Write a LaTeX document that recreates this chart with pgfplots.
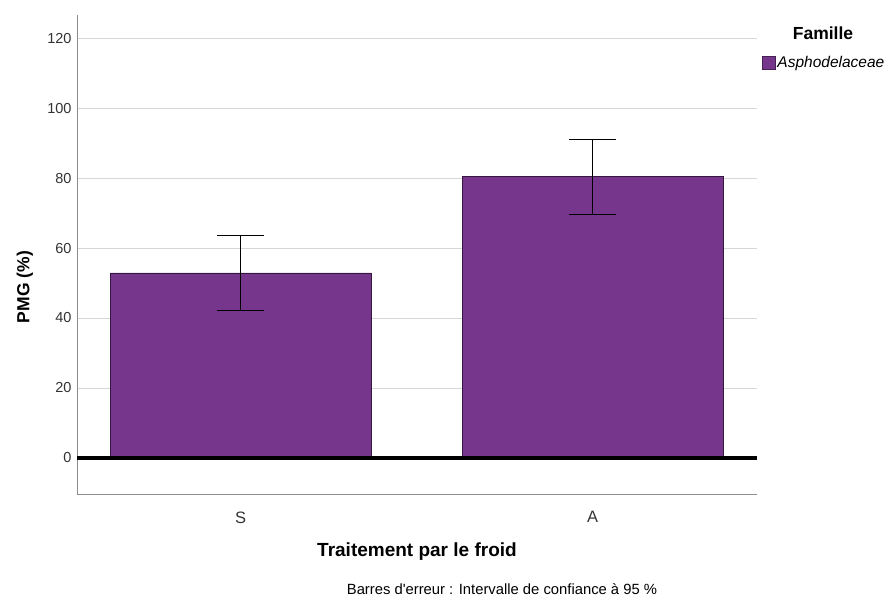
\documentclass[border=0pt]{standalone}
\usepackage{pgfplots}
\pgfplotsset{compat=1.18}
\usepackage{fontspec}
\setmainfont{Liberation Sans}
\newfontfamily\plainfont{Liberation Sans}
\definecolor{barpurple}{RGB}{118,54,139}
\definecolor{axisgray}{RGB}{140,140,140}
\definecolor{gridgray}{RGB}{215,215,215}
\begin{document}
\begin{tikzpicture}[x=1pt,y=1pt]
\path[use as bounding box] (0,0) rectangle (887,599);
\begin{axis}[
  at={(77pt,105pt)}, anchor=south west,
  scale only axis, width=680pt, height=479pt,
  xmin=-0.4645, xmax=1.467, ymin=-10.3, ymax=126.6,
  axis x line*=bottom, axis y line*=left,
  axis line style={axisgray, line width=0.9pt},
  xtick={0,1}, xticklabels={S,A},
  ytick={20,40,60,80,100,120},
  extra y ticks={0},
  major tick length=0pt,
  ymajorgrids, major grid style={gridgray, line width=0.9pt},
  extra y tick style={grid=none},
  /pgf/number format/assume math mode=true,
  tick label style={text=black!80},
  yticklabel style={font=\fontsize{14.5}{16}\selectfont, xshift=-2pt},
  xticklabel style={font=\fontsize{16.5}{18}\selectfont, yshift=-14pt},
  xlabel={\textbf{Traitement par le froid}},
  xlabel style={font=\fontsize{19}{21}\selectfont, at={(axis description cs:0.5,-0.121)}, anchor=center},
  ylabel={\textbf{PMG (\%)}},
  ylabel style={font=\fontsize{17.5}{20}\selectfont, at={(axis description cs:-0.0765,0.432)}, anchor=center, rotate=0},
  legend style={at={(axis description cs:1.007,0.918)}, anchor=north west, draw=none, fill=none, inner sep=0pt, font=\fontsize{15.5}{17}\selectfont\itshape, legend cell align=left},
  legend image code/.code={\draw[fill=barpurple, draw=barpurple!60!black, line width=0.5pt] (0pt,-6.5pt) rectangle (13pt,6.5pt);},
  clip=false,
]
\addplot[ybar, bar width=261pt, fill=barpurple, draw=barpurple!45!black, line width=0.7pt,
  error bars/.cd, y dir=both, y explicit,
  error bar style={black, line width=1pt},
  error mark options={black, line width=1pt, mark size=23.5pt, rotate=90}]
  coordinates {(0,52.9) +- (0,10.7) (1,80.4) +- (0,10.7)};
\addlegendentry{Asphodelaceae}
\addplot[black, line width=3.5pt, forget plot] coordinates {(-0.4645,0) (1.467,0)};
\end{axis}
\node[font=\fontsize{17.5}{20}\selectfont\bfseries] at (823,566) {Famille};
\node[font=\plainfont\fontsize{14.8}{16}\selectfont] at (502,10) {Barres d'erreur : Intervalle de confiance à 95 \%};
\end{tikzpicture}
\end{document}
